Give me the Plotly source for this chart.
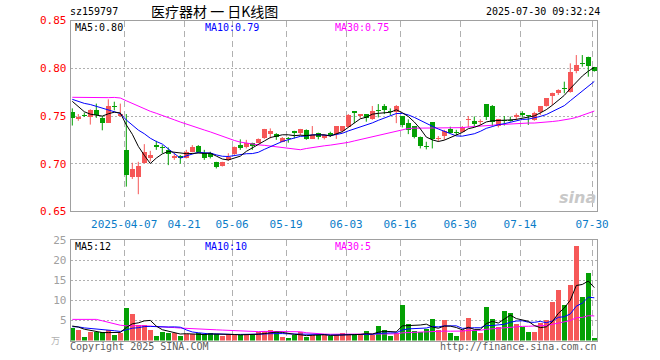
import plotly.graph_objects as go
import pandas as pd

# ---------------- data ----------------
dates = (
    ["2025-03-%02d" % d for d in [24, 25, 26, 27, 28, 31]]
    + ["2025-04-%02d" % d for d in [1, 2, 3, 7, 8, 9, 10, 11, 14, 15, 16, 17, 18, 21, 22, 23, 24, 25, 28, 29, 30]]
    + ["2025-05-%02d" % d for d in [6, 7, 8, 9, 12, 13, 14, 15, 16, 19, 20, 21, 22, 23, 26, 27, 28, 29, 30]]
    + ["2025-06-%02d" % d for d in [3, 4, 5, 6, 9, 10, 11, 12, 13, 16, 17, 18, 19, 20, 23, 24, 25, 26, 27, 30]]
    + ["2025-07-%02d" % d for d in [1, 2, 3, 4, 7, 8, 9, 10, 11, 14, 15, 16, 17, 18, 21, 22, 23, 24, 25, 28, 29, 30]]
)

opens = [0.754, 0.747, 0.751, 0.749, 0.756, 0.748, 0.743, 0.761, 0.750, 0.7144,
         0.686, 0.686, 0.701, 0.706, 0.720, 0.717, 0.7145, 0.7055, 0.708, 0.7055,
         0.7125, 0.7185, 0.7115, 0.711, 0.7015, 0.6975, 0.704, 0.710, 0.720, 0.718,
         0.7215, 0.722, 0.7265, 0.731, 0.731, 0.723, 0.727, 0.734, 0.732, 0.735,
         0.726, 0.732, 0.7265, 0.732, 0.731, 0.7345, 0.7388, 0.755, 0.750, 0.752,
         0.7465, 0.7565, 0.760, 0.7552, 0.7545, 0.750, 0.743, 0.7395, 0.7285, 0.7185,
         0.7435, 0.7262, 0.7295, 0.736, 0.733, 0.733, 0.7458, 0.745, 0.7437, 0.7625,
         0.760, 0.740, 0.7456, 0.7452, 0.7486, 0.7535, 0.7504, 0.7458, 0.7545, 0.7605,
         0.771, 0.7738, 0.7797, 0.7755, 0.7972, 0.8052, 0.8122, 0.801]
highs = [0.758, 0.752, 0.7535, 0.757, 0.763, 0.750, 0.7675, 0.765, 0.763, 0.752,
         0.701, 0.702, 0.7205, 0.7135, 0.724, 0.7195, 0.717, 0.710, 0.709, 0.7145,
         0.7195, 0.7195, 0.7145, 0.7125, 0.702, 0.702, 0.711, 0.718, 0.7255, 0.725,
         0.722, 0.7265, 0.7365, 0.737, 0.732, 0.728, 0.728, 0.7345, 0.7365, 0.736,
         0.7395, 0.7325, 0.7305, 0.7335, 0.7395, 0.7395, 0.752, 0.755, 0.752, 0.752,
         0.7605, 0.7625, 0.7625, 0.758, 0.7615, 0.750, 0.7465, 0.7395, 0.7285, 0.723,
         0.7435, 0.729, 0.7355, 0.7388, 0.7355, 0.7395, 0.750, 0.7495, 0.7465, 0.7625,
         0.7615, 0.747, 0.750, 0.7493, 0.7528, 0.755, 0.751, 0.7545, 0.7605, 0.7685,
         0.7745, 0.778, 0.786, 0.8052, 0.8139, 0.8139, 0.8122, 0.801]
lows = [0.740, 0.745, 0.749, 0.741, 0.748, 0.735, 0.743, 0.756, 0.749, 0.676,
        0.684, 0.668, 0.700, 0.7025, 0.7145, 0.711, 0.6985, 0.704, 0.700, 0.7055,
        0.712, 0.711, 0.704, 0.7055, 0.695, 0.697, 0.703, 0.709, 0.7145, 0.716,
        0.7145, 0.7215, 0.726, 0.7265, 0.725, 0.7225, 0.722, 0.7265, 0.730, 0.725,
        0.726, 0.7255, 0.7255, 0.728, 0.726, 0.7325, 0.738, 0.7425, 0.7475, 0.744,
        0.746, 0.7485, 0.752, 0.751, 0.7425, 0.738, 0.731, 0.7265, 0.716, 0.715,
        0.716, 0.723, 0.725, 0.7325, 0.730, 0.733, 0.738, 0.739, 0.7405, 0.7458,
        0.739, 0.738, 0.740, 0.7441, 0.7458, 0.7486, 0.7406, 0.745, 0.751, 0.7598,
        0.7615, 0.772, 0.7738, 0.7745, 0.7948, 0.8017, 0.7912, 0.7965]
closes = [0.748, 0.749, 0.7505, 0.756, 0.751, 0.743, 0.761, 0.759, 0.752, 0.6885,
          0.694, 0.6975, 0.712, 0.709, 0.717, 0.716, 0.710, 0.708, 0.7065, 0.712,
          0.717, 0.7125, 0.706, 0.7075, 0.697, 0.7015, 0.7075, 0.7175, 0.716, 0.722,
          0.7185, 0.726, 0.7365, 0.734, 0.728, 0.727, 0.726, 0.732, 0.7365, 0.726,
          0.730, 0.7285, 0.7305, 0.730, 0.7395, 0.7395, 0.751, 0.7535, 0.752, 0.7475,
          0.7555, 0.7555, 0.7565, 0.7545, 0.7605, 0.7405, 0.7355, 0.7275, 0.719, 0.717,
          0.726, 0.7268, 0.7345, 0.7325, 0.732, 0.738, 0.7465, 0.7415, 0.7443, 0.7486,
          0.744, 0.747, 0.745, 0.7448, 0.7514, 0.7507, 0.750, 0.7535, 0.7605, 0.7685,
          0.7738, 0.7773, 0.778, 0.7965, 0.8035, 0.8042, 0.8028, 0.7975]
volumes = [3.05, 2.6, 0.95, 2.2, 2.05, 2.05, 2.6, 1.4, 1.95, 8.2,
           6.6, 3.8, 3.8, 2.6, 1.1, 2.1, 1.95, 1.8, 1.1, 1.5,
           1.5, 1.8, 1.5, 1.8, 1.5, 1.2, 1.5, 1.5, 1.35, 1.5,
           1.35, 2.05, 2.4, 2.6, 2.05, 0.95, 0.7, 1.4, 2.05, 0.95,
           1.4, 1.4, 1.4, 1.2, 1.4, 1.95, 1.4, 1.4, 1.4, 2.4,
           1.4, 3.7, 2.6, 1.2, 1.8, 8.9, 4.1, 2.4, 2.05, 2.9,
           5.4, 2.5, 5.1, 1.95, 1.2, 2.6, 5.6, 2.5, 1.95, 8.4,
           5.4, 3.45, 7.4, 6.9, 4.1, 3.4, 2.1, 2.1, 4.3, 5.1,
           9.6, 12.6, 8.9, 13.9, 23.4, 10.9, 16.9, 0.7]

# estimated history before the first visible day (only seeds the moving averages)
prior_closes = [0.752, 0.750, 0.755, 0.758, 0.756, 0.750, 0.752,
                0.770, 0.776, 0.782, 0.786, 0.790, 0.785, 0.780, 0.778, 0.782, 0.779, 0.776, 0.780, 0.776,
                0.772, 0.770, 0.768, 0.770, 0.768,
                0.7773, 0.7765, 0.7688, 0.7561]
prior_volumes = [2.6, 1.0, 2.2, 2.0,
                 12.5, 13.0, 12.8, 13.2, 12.7,
                 4.5, 5.0, 4.8, 4.2, 4.6, 5.0, 4.4, 4.3, 4.7, 4.5, 5.0,
                 3.2, 3.5, 3.3, 3.1, 3.4,
                 3.9, 3.6, 3.8, 3.65]

tick_dates = ["2025-04-07", "2025-04-21", "2025-05-06", "2025-05-19", "2025-06-03",
              "2025-06-16", "2025-06-30", "2025-07-14", "2025-07-30"]
tick_text = ["2025-04-07", "04-21", "05-06", "05-19", "06-03", "06-16", "06-30", "07-14", "07-30"]
price_ticks = [0.65, 0.70, 0.75, 0.80, 0.85]
volume_ticks = [5, 10, 15, 20, 25]

title_code = "sz159797"
title_name = "医疗器材 一 日K线图"
title_time = "2025-07-30 09:32:24"
ma_price_text = ["MA5:0.80", "MA10:0.79", "MA30:0.75"]
ma_volume_text = ["MA5:12", "MA10:10", "MA30:5"]

# ---------------- derived ----------------
n = len(closes)
xs = list(range(n))
all_c = pd.Series(prior_closes + closes)
all_v = pd.Series(prior_volumes + volumes)
k = len(prior_closes)
ma_c = {w: all_c.rolling(w).mean().iloc[k:].tolist() for w in (5, 10, 30)}
ma_v = {w: all_v.rolling(w).mean().iloc[k:].tolist() for w in (5, 10, 30)}

RED = "#f65858"
GREEN = "#04a004"
up = [c >= o for o, c in zip(opens, closes)]

body_base, body_h = [], []
for o, c in zip(opens, closes):
    lo, hi = min(o, c), max(o, c)
    if hi - lo < 0.0008:
        mid = (hi + lo) / 2
        lo, hi = mid - 0.0005, mid + 0.0005
    body_base.append(lo)
    body_h.append(hi - lo)

W, H = 660, 360
L, R = 70.7, 597.0
PT, PB = 20.6, 211.4
VT, VB = 240.0, 340.5

def px(x):
    return x / W

def py(y):
    return 1 - y / H

MONO = "DejaVu Sans Mono, monospace"
CJK = "Noto Sans CJK SC, sans-serif"

fig = go.Figure()

# wicks
for flag, col in ((True, RED), (False, GREEN)):
    wx, wy = [], []
    for i in xs:
        if up[i] == flag:
            wx += [i, i, None]
            wy += [lows[i], highs[i], None]
    fig.add_trace(go.Scatter(x=wx, y=wy, mode="lines", line=dict(color=col, width=1),
                             xaxis="x", yaxis="y", hoverinfo="skip"))

colors = [RED if u else GREEN for u in up]
fig.add_trace(go.Bar(x=xs, y=body_h, base=body_base, width=0.8,
                     marker=dict(color=colors, line=dict(width=0)), xaxis="x", yaxis="y"))

for w, col in ((30, "#ff00ff"), (10, "#0000ff"), (5, "#000000")):
    fig.add_trace(go.Scatter(x=xs, y=ma_c[w], mode="lines", line=dict(color=col, width=1),
                             xaxis="x", yaxis="y", hoverinfo="skip"))

fig.add_trace(go.Bar(x=xs, y=volumes, width=0.8,
                     marker=dict(color=colors, line=dict(width=0)), xaxis="x2", yaxis="y2"))
for w, col in ((30, "#ff00ff"), (10, "#0000ff"), (5, "#000000")):
    fig.add_trace(go.Scatter(x=xs, y=ma_v[w], mode="lines", line=dict(color=col, width=1),
                             xaxis="x2", yaxis="y2", hoverinfo="skip"))

tickvals = [dates.index(d) - 0.36 for d in tick_dates]
xr = [(L - 72.3) / 6, (R - 72.3) / 6]
GRID = "#b0b0b0"
BORDER = "#a0a0a0"

common_x = dict(domain=[px(L), px(R)], range=xr, tickvals=tickvals, showgrid=True,
                gridcolor=GRID, griddash="6px,4px", gridwidth=1, showline=True, mirror=True,
                linecolor=BORDER, linewidth=1, zeroline=False, ticks="", fixedrange=True,
                automargin=False)

fig.update_layout(
    width=W, height=H, margin=dict(l=0, r=0, t=0, b=0, pad=0, autoexpand=False),
    paper_bgcolor="white", plot_bgcolor="white", showlegend=False, bargap=0,
    xaxis=dict(**common_x, anchor="y", ticktext=tick_text, ticklabelstandoff=2,
               tickfont=dict(family=MONO, size=11, color="#0a7cc8")),
    xaxis2=dict(**common_x, anchor="y2", showticklabels=False),
    yaxis=dict(domain=[py(PB), py(PT)], range=[0.65, 0.85], tickvals=price_ticks,
               ticktext=["%.2f" % v for v in price_ticks], showgrid=True, gridcolor=GRID,
               griddash="2px,2px", showline=True, mirror=True, linecolor=BORDER, zeroline=False,
               ticks="", ticklabelstandoff=1, automargin=False, fixedrange=True,
               tickfont=dict(family=MONO, size=11, color="#ff0000")),
    yaxis2=dict(domain=[py(VB), py(VT)], range=[0, 25], tickvals=volume_ticks,
                ticktext=[str(v) for v in volume_ticks], showgrid=True, gridcolor=GRID,
                griddash="2px,2px", showline=True, mirror=True, linecolor=BORDER, zeroline=False,
                ticks="", ticklabelstandoff=1, automargin=False, fixedrange=True,
                tickfont=dict(family=MONO, size=11, color="#a0a0a0")),
)

def note(text, x, y, color="#000", anchor="left", size=10, family=MONO, **kw):
    fig.add_annotation(text=text, x=px(x), y=py(y), xref="paper", yref="paper",
                       xanchor=anchor, yanchor="middle", showarrow=False, borderpad=0,
                       font=dict(family=family, size=size, color=color), **kw)

note(title_code, 69, 11.5)
note(title_name, 214, 11, anchor="center", size=14, family=CJK)
note(title_time, 601, 11.5, anchor="right")

for t, x, c in zip(ma_price_text, (74, 204, 334), ("#000000", "#0000ff", "#ff00ff")):
    note(t, x, 27.5, color=c)
for t, x, c in zip(ma_volume_text, (74, 204, 334), ("#000000", "#0000ff", "#ff00ff")):
    note(t, x, 246.5, color=c)

note("万", 50, 340, color="#b0b0b0", size=9, family=CJK)
note("Copyright 2025 SINA.COM", 69, 346, color="#606060")
note("http://finance.sina.com.cn", 598, 346, color="#606060", anchor="right")
note("<b><i>sina</i></b>", 597, 197, color="#c8c8c8", anchor="right", size=16,
     family="DejaVu Sans, sans-serif")

# the page's default 8px body margin would push the figure off the window corner
fig.write_html("out.html",
               config={"displayModeBar": False, "staticPlot": True},
               post_script="document.body.style.margin='0px';document.body.style.padding='0px';")
